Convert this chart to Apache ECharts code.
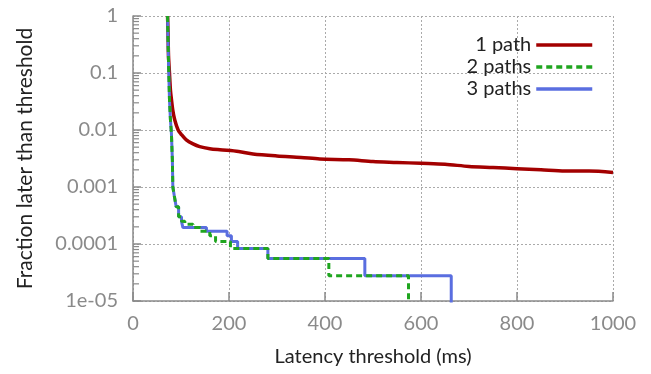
<!DOCTYPE html>
<html>
<head>
<meta charset="utf-8">
<script src="https://cdn.jsdelivr.net/npm/echarts@6/dist/echarts.min.js"></script>
<style>
  html, body { margin: 0; padding: 0; background: #fff; }
  #chart { width: 651px; height: 374px; }
</style>
</head>
<body>
<div id="chart"></div>
<script>
// latency (ms) vs fraction of requests later than that threshold
const seriesNames = ['1 path', '2 paths', '3 paths'];

const onePathX = [72, 73, 74, 76, 78, 80, 83, 87, 94, 100, 111, 125, 139, 160, 181, 220, 250, 300, 350, 389, 450, 500, 550, 600, 650, 700, 750, 800, 850, 900, 950, 1000];
const onePathY = [1, 0.5, 0.2, 0.1, 0.05, 0.035, 0.022, 0.015, 0.01, 0.0085, 0.0067, 0.0057, 0.0051, 0.0047, 0.0045, 0.0042, 0.0038, 0.0035, 0.0033, 0.0031, 0.003, 0.0028, 0.0027, 0.0026, 0.0025, 0.0023, 0.0022, 0.0021, 0.002, 0.0019, 0.0019, 0.0018];

const twoPathsX = [72, 74, 76, 78, 80, 82, 83, 86, 90, 95, 101, 108, 125, 140, 160, 172, 203, 281, 408, 574];
const twoPathsY = [1, 0.15, 0.034, 0.015, 0.0089, 0.003, 0.001, 0.0007, 0.00045, 0.0003, 0.00025, 0.000222, 0.000194, 0.000167, 0.000139, 0.000111, 0.0000833, 0.0000556, 0.0000278, 0.000001];

const threePathsX = [72, 74, 76, 78, 80, 82, 83, 86, 90, 95, 101, 104, 153, 196, 205, 218, 281, 483, 663];
const threePathsY = [1, 0.15, 0.034, 0.015, 0.0089, 0.003, 0.001, 0.0007, 0.00045, 0.0003, 0.00025, 0.000194, 0.000167, 0.000139, 0.000111, 0.0000833, 0.0000556, 0.0000278, 0.000001];

const xTicks = [0, 200, 400, 600, 800, 1000];
const yTickLabels = ['1e-05', '0.0001', '0.001', '0.01', '0.1', '1'];
const yDecades = [1e-5, 1e-4, 1e-3, 1e-2, 1e-1];
const minorSteps = [2, 3, 4, 5, 6, 7, 8, 9];

const pairs = (xs, ys) => xs.map((x, i) => [x, ys[i]]);

const font = 'Lato, "Open Sans", sans-serif';
const gray = '#8a8a8a';

let myChart = echarts.init(document.getElementById('chart'));
myChart.setOption({
    animation: false,
    textStyle: {fontFamily: font},
    grid: {left: 133, right: 38, top: 16, bottom: 73},
    legend: {
        data: seriesNames,
        orient: 'vertical',
        align: 'right',
        right: 52,
        top: 30,
        itemWidth: 56,
        itemHeight: 12,
        itemGap: 2,
        itemStyle: {opacity: 0},
        lineStyle: {width: 3.5},
        textStyle: {fontSize: 20, color: '#222', fontFamily: font}
    },
    xAxis: {
        type: 'value',
        min: xTicks[0],
        max: xTicks[xTicks.length - 1],
        interval: 200,
        name: 'Latency threshold (ms)',
        nameLocation: 'middle',
        nameGap: 46,
        nameTextStyle: {fontSize: 20, color: '#222'},
        axisLine: {lineStyle: {color: gray, width: 1.5}},
        axisTick: {inside: true, length: 9, lineStyle: {color: gray, width: 1.5}},
        axisLabel: {fontSize: 20, color: gray, margin: 13, formatter: v => String(v)},
        splitLine: {lineStyle: {color: '#aaa', type: [2, 2], width: 1}}
    },
    yAxis: {
        type: 'log',
        logBase: 10,
        min: 1e-5,
        max: 1,
        name: 'Fraction later than threshold',
        nameLocation: 'middle',
        nameGap: 97,
        nameTextStyle: {fontSize: 21, color: '#222'},
        axisLine: {show: true, lineStyle: {color: gray, width: 1.5}},
        axisTick: {show: true, inside: true, length: 8, lineStyle: {color: gray, width: 1.5}},
        axisLabel: {
            fontSize: 20, color: gray, margin: 15,
            formatter: v => yTickLabels[Math.round(Math.log10(v)) + 5]
        },
        splitLine: {lineStyle: {color: '#aaa', type: [2, 2], width: 1}}
    },
    series: [
        {
            name: '1 path',
            type: 'line',
            data: pairs(onePathX, onePathY),
            symbol: 'none',
            smooth: 0.3,
            color: '#a30000',
            lineStyle: {width: 3.5, color: '#a30000'}
        },
        {
            name: '3 paths',
            type: 'line',
            step: 'end',
            data: pairs(threePathsX, threePathsY),
            symbol: 'none',
            color: '#5a6ee0',
            lineStyle: {width: 3, color: '#5a6ee0'}
        },
        {
            name: '2 paths',
            type: 'line',
            step: 'end',
            data: pairs(twoPathsX, twoPathsY),
            symbol: 'none',
            color: '#1fa51f',
            lineStyle: {width: 3, color: '#1fa51f', type: [6, 4]}
        }
    ]
});

// minor ticks of the log axis (2..9 within each decade), placed through the axis scale
let minorMarks = [];
yDecades.forEach(d => minorSteps.forEach(m => {
    const p = myChart.convertToPixel({gridIndex: 0}, [xTicks[0], d * m]);
    minorMarks.push({
        type: 'line',
        shape: {x1: p[0], y1: p[1], x2: p[0] + 6, y2: p[1]},
        style: {stroke: gray, lineWidth: 1.2},
        silent: true,
        z: 10
    });
}));
myChart.setOption({graphic: {elements: minorMarks}});
</script>
</body>
</html>
